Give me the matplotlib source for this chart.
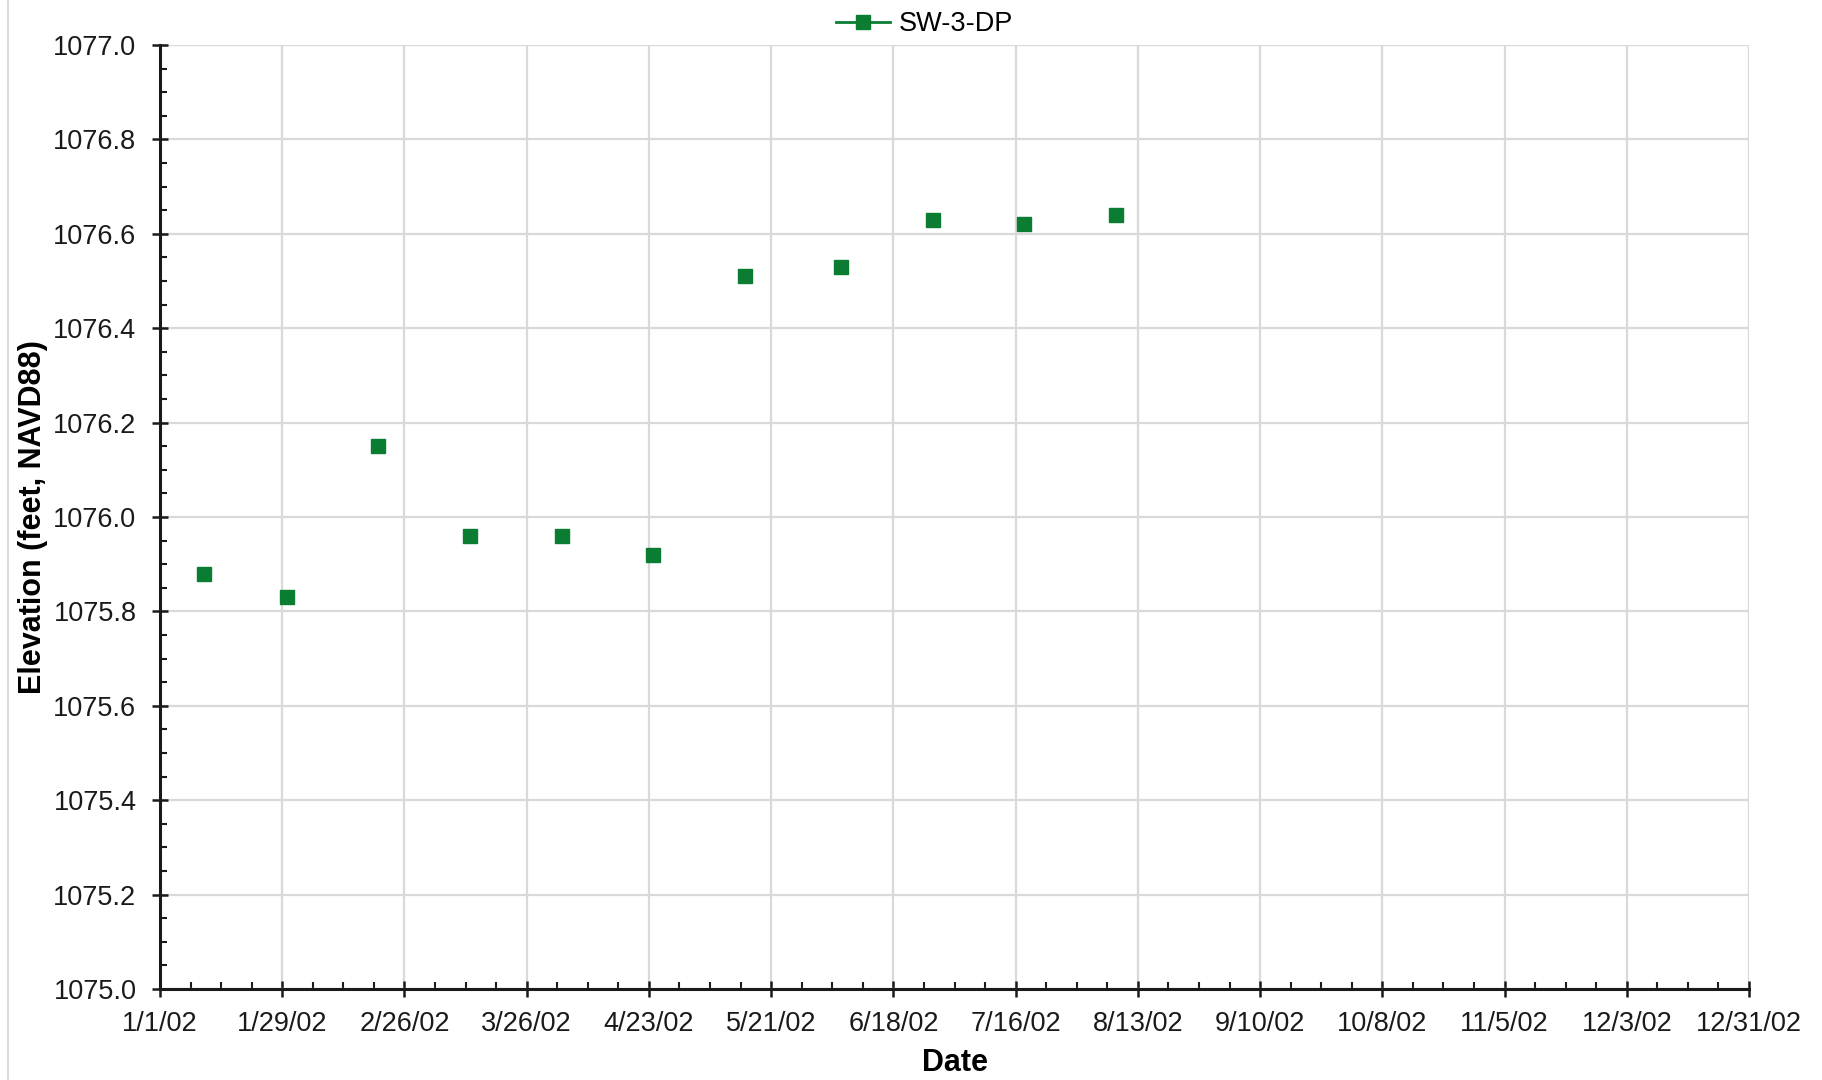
import numpy as np
import pandas as pd
import matplotlib
matplotlib.use('Agg')
import matplotlib.pyplot as plt
import matplotlib.dates as mdates
from matplotlib.ticker import FixedLocator, MultipleLocator, FormatStrFormatter

# ---- Data ----
series_name = 'SW-3-DP'
dates = pd.to_datetime(['2002-01-11', '2002-01-30', '2002-02-20', '2002-03-13',
                        '2002-04-03', '2002-04-24', '2002-05-15', '2002-06-06',
                        '2002-06-27', '2002-07-18', '2002-08-08'])
elevation = [1075.88, 1075.83, 1076.15, 1075.96, 1075.96, 1075.92,
             1076.51, 1076.53, 1076.63, 1076.62, 1076.64]

x_ticks = pd.date_range('2002-01-01', '2002-12-31', freq='28D')
x_minor = pd.date_range('2002-01-01', '2002-12-31', freq='7D')
x_labels = [f"{d.month}/{d.day}/{d:%y}" for d in x_ticks]

green = '#0b7d33'
grid_c = '#d9d9d9'

plt.rcParams['font.family'] = ['Liberation Sans', 'DejaVu Sans']

fig = plt.figure(figsize=(18.22, 10.80), dpi=100)
ax = fig.add_axes([160 / 1822, 1 - 989 / 1080, (1749 - 160) / 1822, (989 - 45) / 1080])

ax.plot(dates, elevation, linestyle='none', marker='s', markersize=10,
        color=green, label=series_name, zorder=3)

# Axes limits and ticks
ax.set_xlim(x_ticks[0], x_ticks[-1])
ax.set_ylim(1075.0, 1077.0)
ax.xaxis.set_major_locator(FixedLocator(mdates.date2num(x_ticks)))
ax.xaxis.set_minor_locator(FixedLocator(mdates.date2num(x_minor)))
ax.set_xticklabels(x_labels)
ax.yaxis.set_major_locator(MultipleLocator(0.2))
ax.yaxis.set_minor_locator(MultipleLocator(0.05))
ax.yaxis.set_major_formatter(FormatStrFormatter('%.1f'))

ax.tick_params(which='major', direction='inout', length=12, width=1.8,
               labelsize=19.5, colors='#1a1a1a')
ax.tick_params(axis='y', which='major', pad=11)
ax.tick_params(axis='x', which='major', pad=10)
ax.tick_params(which='minor', direction='in', length=5, width=1.5, colors='#1a1a1a')

# Grid
ax.grid(True, which='major', color=grid_c, linewidth=1.6, zorder=0)
ax.set_axisbelow(True)

for s in ['top', 'right']:
    ax.spines[s].set_visible(False)
for s in ['left', 'bottom']:
    ax.spines[s].set_linewidth(2.2)
    ax.spines[s].set_color('#1a1a1a')

# Labels
ax.set_xlabel('Date', fontsize=22, fontweight='bold', labelpad=8)
ax.set_ylabel('Elevation (feet, NAVD88)', fontsize=22, fontweight='bold', labelpad=4)

# Legend
leg = ax.legend(loc='lower center', bbox_to_anchor=(0.481, 0.997), frameon=False,
                fontsize=19.5, handlelength=2.0, handletextpad=0.3, borderaxespad=0)
for h in leg.get_lines():
    h.set_linestyle('-')
    h.set_linewidth(2)

# Light border at left of figure
fig.add_artist(plt.Line2D([8 / 1822, 8 / 1822], [0, 1], color=grid_c, linewidth=1.5))

fig.savefig('out.png', dpi=100)
